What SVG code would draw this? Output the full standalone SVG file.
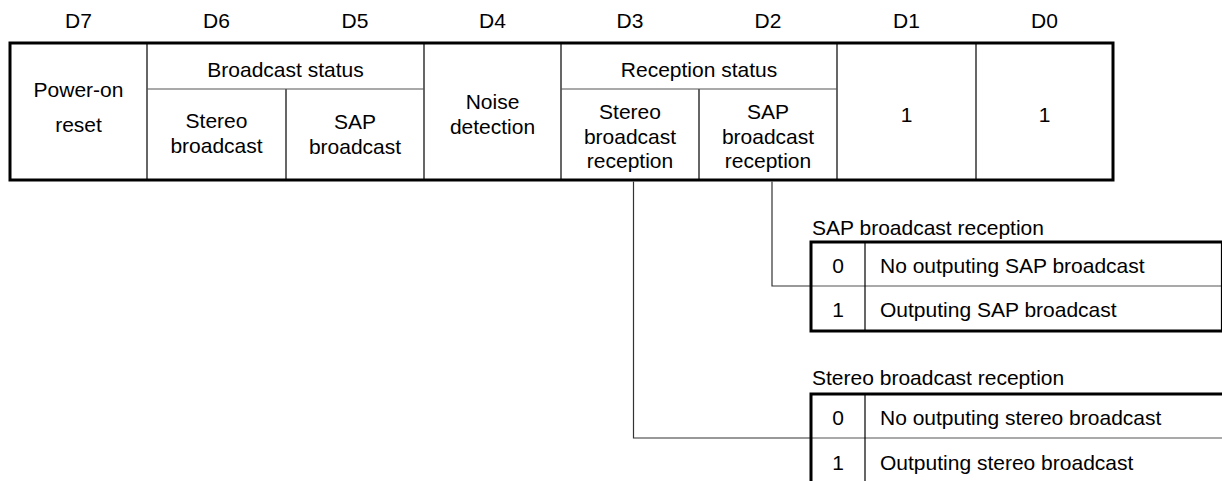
<svg xmlns="http://www.w3.org/2000/svg" width="1222" height="481" viewBox="0 0 1222 481">
<style>
text{font-family:"Liberation Sans",Arial,sans-serif;fill:#000}
.t{font-size:21px;text-anchor:middle}
.s{font-size:21px}
.sc{font-size:21px;text-anchor:middle}
.thick{fill:none;stroke:#000;stroke-width:3}
.v{stroke:#000;stroke-width:1.2;fill:none}
.h{stroke:#555;stroke-width:1.2;fill:none}
.conn{stroke:#333;stroke-width:1.2;fill:none}
</style>
<rect width="1222" height="481" fill="#fff"/>
<g id="bit-labels">
<text class="t" x="78.5" y="28">D7</text>
<text class="t" x="216.5" y="28">D6</text>
<text class="t" x="355" y="28">D5</text>
<text class="t" x="492.5" y="28">D4</text>
<text class="t" x="630" y="28">D3</text>
<text class="t" x="768" y="28">D2</text>
<text class="t" x="906.5" y="28">D1</text>
<text class="t" x="1044.5" y="28">D0</text>
</g>
<g id="register">
<rect class="thick" x="10" y="43" width="1103" height="137"/>
<line class="v" x1="147" y1="43" x2="147" y2="180"/>
<line class="v" x1="286" y1="89" x2="286" y2="180"/>
<line class="v" x1="424" y1="43" x2="424" y2="180"/>
<line class="v" x1="561" y1="43" x2="561" y2="180"/>
<line class="v" x1="699" y1="89" x2="699" y2="180"/>
<line class="v" x1="837" y1="43" x2="837" y2="180"/>
<line class="v" x1="976" y1="43" x2="976" y2="180"/>
<line class="h" x1="147" y1="89" x2="424" y2="89"/>
<line class="h" x1="561" y1="89" x2="837" y2="89"/>
</g>
<g id="d7"><text class="t" x="78.5" y="97">Power-on</text><text class="t" x="78.5" y="132">reset</text></g>
<g id="broadcast-status"><text class="t" x="285.5" y="77">Broadcast status</text></g>
<g id="d6"><text class="t" x="216.5" y="128">Stereo</text><text class="t" x="216.5" y="153">broadcast</text></g>
<g id="d5"><text class="t" x="355" y="129">SAP</text><text class="t" x="355" y="154">broadcast</text></g>
<g id="d4"><text class="t" x="492.5" y="109">Noise</text><text class="t" x="492.5" y="134">detection</text></g>
<g id="reception-status"><text class="t" x="699" y="77">Reception status</text></g>
<g id="d3"><text class="t" x="630" y="119">Stereo</text><text class="t" x="630" y="144">broadcast</text><text class="t" x="630" y="168">reception</text></g>
<g id="d2"><text class="t" x="768" y="119">SAP</text><text class="t" x="768" y="144">broadcast</text><text class="t" x="768" y="168">reception</text></g>
<g id="d1"><text class="t" x="906.5" y="122">1</text></g>
<g id="d0"><text class="t" x="1044.5" y="122">1</text></g>
<g id="connectors">
<polyline class="conn" points="772,181.5 772,286 811,286"/>
<polyline class="conn" points="633.5,181.5 633.5,438 811,438"/>
</g>
<g id="sap-table">
<text class="s" x="812" y="235">SAP broadcast reception</text>
<line class="h" x1="811" y1="286" x2="1222" y2="286"/>
<line class="v" x1="865" y1="242" x2="865" y2="331"/>
<line class="v" x1="1221.5" y1="242" x2="1221.5" y2="331"/>
<polyline class="thick" points="1222,242 811,242 811,331 1222,331"/>
<text class="sc" x="838" y="273">0</text>
<text class="s" x="880" y="273">No outputing SAP broadcast</text>
<text class="sc" x="838" y="317">1</text>
<text class="s" x="880" y="317">Outputing SAP broadcast</text>
</g>
<g id="stereo-table">
<text class="s" x="812" y="385">Stereo broadcast reception</text>
<line class="h" x1="811" y1="438" x2="1222" y2="438"/>
<line class="v" x1="865" y1="394" x2="865" y2="481"/>
<polyline class="thick" points="1222,394 811,394 811,481"/>
<text class="sc" x="838" y="425">0</text>
<text class="s" x="880" y="425">No outputing stereo broadcast</text>
<text class="sc" x="838" y="470">1</text>
<text class="s" x="880" y="470">Outputing stereo broadcast</text>
</g>
</svg>
